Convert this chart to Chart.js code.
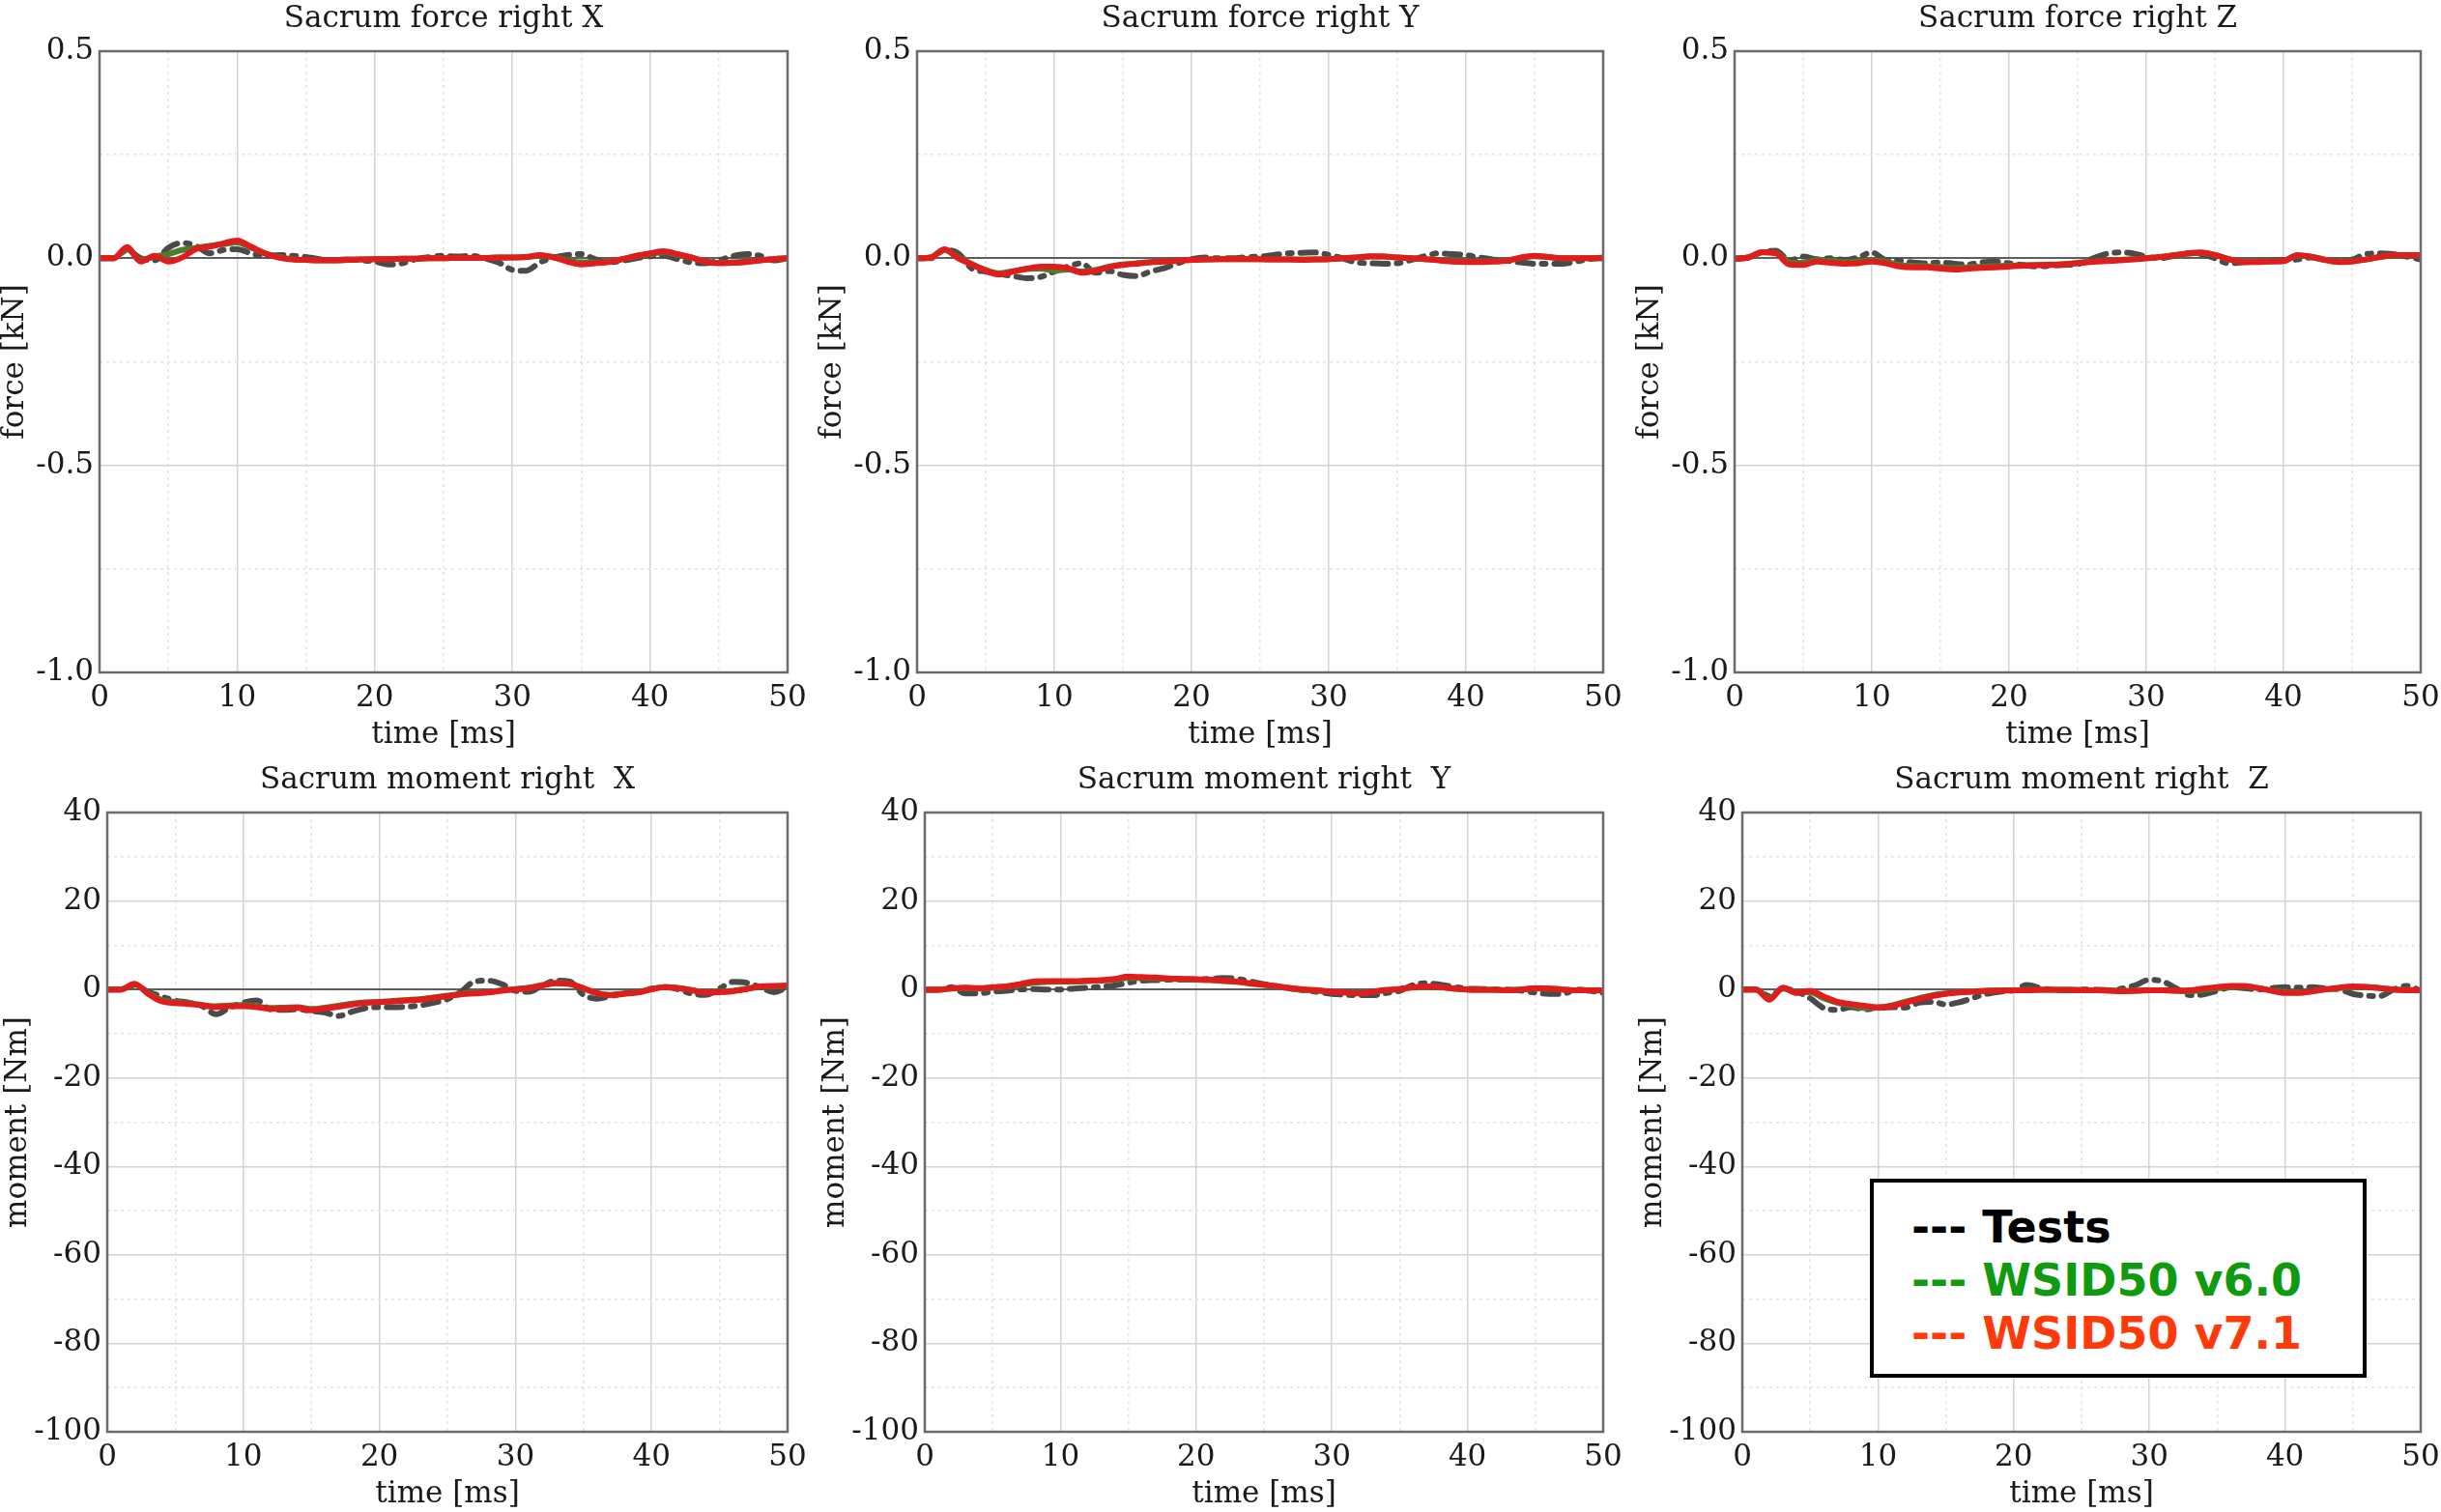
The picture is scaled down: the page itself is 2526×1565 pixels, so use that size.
<!DOCTYPE html>
<html>
<head>
<meta charset="utf-8">
<script src="https://cdn.jsdelivr.net/npm/chart.js"></script>
<style>
html,body{margin:0;padding:0;background:#fff;}
body{width:2526px;height:1565px;position:relative;overflow:hidden;}
canvas{position:absolute;z-index:1;}
#legend{position:absolute;z-index:10;left:1935px;top:1220px;width:514px;height:206px;border:4px solid #000;background:#fff;box-sizing:border-box;padding:19px 0 0 39px;font-family:"DejaVu Sans";font-weight:bold;font-size:46px;line-height:55px;white-space:pre;}
</style>
</head>
<body>
<div id="legend"></div>
<script>
// ---------------- data ----------------
const timeMs = [0,1,2,3,4,5,6,7,8,9,10,11,12,13,14,15,16,17,18,19,20,21,22,23,24,25,26,27,28,29,30,31,32,33,34,35,36,37,38,39,40,41,42,43,44,45,46,47,48,49,50];

const seriesNames = ['Tests', 'WSID50 v6.0', 'WSID50 v7.1'];
const panelTitles = ['Sacrum force right X', 'Sacrum force right Y', 'Sacrum force right Z',
                     'Sacrum moment right  X', 'Sacrum moment right  Y', 'Sacrum moment right  Z'];
const yAxisTitles = ['force [kN]', 'force [kN]', 'force [kN]', 'moment [Nm]', 'moment [Nm]', 'moment [Nm]'];
const xAxisTitle = 'time [ms]';

// axis ranges / tick steps
const forceAxis  = {min: -1.0, max: 0.5, step: 0.25, labelStep: 0.5, decimals: 1};
const momentAxis = {min: -100, max: 40,  step: 10,   labelStep: 20,  decimals: 0};
const timeAxis   = {min: 0, max: 50, step: 5, labelStep: 10};

// force [kN]
const forceX_tests = [0,0,0.02,0,-0.005,0.025,0.037,0.03,0.012,0.02,0.022,0.012,0.005,0.008,0.006,0.003,-0.002,-0.004,-0.003,-0.005,-0.008,-0.015,-0.012,-0.002,0.003,0.006,0.004,0.006,0,-0.01,-0.028,-0.03,-0.01,0.002,0.008,0.01,-0.002,-0.01,-0.006,0,0.005,0.006,-0.002,-0.01,-0.012,-0.005,0.005,0.01,0.006,-0.005,0];
const forceX_v60   = [0,0,0.022,-0.004,0.004,0.01,0.02,0.025,0.03,0.034,0.038,0.026,0.012,0.003,-0.002,-0.004,-0.005,-0.005,-0.004,-0.003,-0.002,-0.002,-0.001,-0.001,0,0,0.001,0.001,0.001,0.002,0.002,0.003,0.006,0.003,-0.005,-0.01,-0.01,-0.008,-0.002,0.005,0.01,0.014,0.009,0.002,-0.007,-0.011,-0.01,-0.008,-0.005,-0.002,0];
const forceX_v71   = [0,0,0.027,-0.008,0.006,-0.008,0.002,0.022,0.028,0.036,0.043,0.028,0.012,0.002,-0.003,-0.004,-0.005,-0.005,-0.004,-0.003,-0.002,-0.002,-0.001,-0.001,0,0,0.001,0.001,0.001,0.002,0.002,0.003,0.008,0.002,-0.008,-0.015,-0.012,-0.009,-0.002,0.006,0.012,0.017,0.01,0.002,-0.008,-0.012,-0.011,-0.009,-0.005,-0.002,0];

const forceY_tests = [0,0,0.02,0.012,-0.025,-0.032,-0.038,-0.043,-0.048,-0.045,-0.032,-0.02,-0.012,-0.035,-0.031,-0.04,-0.043,-0.032,-0.024,-0.012,-0.002,0.002,0,0,0.003,0.004,0.008,0.012,0.013,0.014,0.008,0,-0.01,-0.012,-0.013,-0.012,-0.004,0.005,0.012,0.01,0.008,0.002,-0.003,-0.006,-0.01,-0.013,-0.013,-0.013,-0.008,-0.002,0.002];
const forceY_v60   = [0,0.002,0.02,0.002,-0.014,-0.028,-0.036,-0.031,-0.026,-0.025,-0.03,-0.027,-0.032,-0.028,-0.02,-0.015,-0.012,-0.009,-0.007,-0.005,-0.004,-0.003,-0.002,-0.002,-0.002,-0.002,-0.003,-0.003,-0.003,-0.003,-0.002,0,0.002,0.004,0.004,0.002,0,-0.002,-0.004,-0.007,-0.008,-0.008,-0.007,-0.005,0.001,0.005,0.003,0,0,0,0];
const forceY_v71   = [0,0.002,0.022,0,-0.015,-0.03,-0.039,-0.032,-0.025,-0.02,-0.02,-0.024,-0.035,-0.03,-0.021,-0.016,-0.013,-0.01,-0.008,-0.006,-0.004,-0.003,-0.002,-0.002,-0.002,-0.002,-0.003,-0.003,-0.004,-0.003,-0.002,0,0.002,0.005,0.004,0.002,0,-0.002,-0.005,-0.008,-0.009,-0.009,-0.008,-0.006,0.002,0.006,0.003,0,0,0,0];

const forceZ_tests = [0,0.002,0.015,0.018,-0.005,0.004,-0.002,0,-0.004,0.002,0.014,-0.004,-0.006,-0.01,-0.012,-0.01,-0.013,-0.015,-0.01,-0.008,-0.012,-0.016,-0.02,-0.018,-0.016,-0.014,-0.002,0.01,0.014,0.012,0.004,0,0.006,0.012,0.01,0,-0.012,-0.01,-0.008,-0.005,-0.004,-0.003,0.002,-0.004,-0.006,-0.003,0.01,0.012,0.01,0.004,-0.003];
const forceZ_v60   = [-0.002,0.002,0.014,0.013,-0.01,-0.011,-0.004,-0.007,-0.009,-0.008,-0.005,-0.008,-0.016,-0.018,-0.019,-0.021,-0.023,-0.022,-0.02,-0.019,-0.018,-0.017,-0.016,-0.015,-0.014,-0.011,-0.008,-0.006,-0.004,-0.002,0,0.003,0.007,0.011,0.013,0.008,-0.002,-0.008,-0.008,-0.007,-0.006,0.006,0.004,-0.003,-0.008,-0.007,-0.003,0.003,0.007,0.008,0.007];
const forceZ_v71   = [-0.002,0.002,0.015,0.012,-0.015,-0.016,-0.008,-0.011,-0.013,-0.012,-0.008,-0.012,-0.02,-0.022,-0.022,-0.025,-0.027,-0.025,-0.023,-0.022,-0.02,-0.018,-0.017,-0.016,-0.015,-0.012,-0.009,-0.007,-0.005,-0.003,0,0.003,0.007,0.012,0.014,0.008,-0.002,-0.009,-0.009,-0.008,-0.007,0.008,0.004,-0.004,-0.009,-0.008,-0.003,0.003,0.008,0.008,0.008];

// moment [Nm]
const momentX_tests = [0,0,1.0,-0.5,-1.6,-2.5,-3.0,-3.8,-5.6,-4.1,-3.0,-2.5,-4.5,-4.6,-4.5,-4.9,-5.2,-6.0,-5.0,-4.2,-4.0,-4.0,-3.9,-3.6,-3.0,-2.2,-0.5,1.8,2.0,1.2,-0.3,-0.5,1.0,2.0,1.8,-1.2,-2.1,-1.5,-0.9,-0.5,0.2,0.5,0,-1.0,-1.2,0.2,1.7,1.5,0.5,-0.6,0.5];
const momentX_v60   = [0,0,1.2,-0.8,-2.4,-2.8,-3.1,-3.5,-3.8,-3.6,-3.5,-3.8,-4.2,-4.1,-4.0,-4.4,-4.1,-3.7,-3.2,-2.9,-2.8,-2.6,-2.4,-2.2,-1.8,-1.4,-1.0,-0.8,-0.6,-0.2,0.1,0.4,1.0,1.5,1.3,0.2,-0.9,-1.2,-0.9,-0.6,0.1,0.5,0.3,-0.2,-0.6,-0.5,-0.3,0.2,0.6,0.7,0.8];
const momentX_v71   = [0,0,1.3,-1.0,-2.7,-3.1,-3.3,-3.6,-4.0,-3.8,-3.8,-4.0,-4.4,-4.3,-4.2,-4.7,-4.3,-3.9,-3.4,-3.0,-2.9,-2.7,-2.5,-2.3,-1.9,-1.5,-1.1,-0.9,-0.7,-0.3,0,0.3,0.9,1.4,1.2,0.3,-0.8,-1.3,-1.0,-0.7,0,0.5,0.3,-0.2,-0.7,-0.6,-0.4,0.1,0.7,0.8,0.9];

const momentY_tests = [0,0,0.5,-0.9,-0.9,-0.5,-0.3,0,0.1,0,0,0.2,0.4,0.6,0.9,1.5,2.0,2.1,2.2,2.2,2.3,2.4,2.6,2.4,1.8,1.2,0.7,0.2,-0.2,-0.6,-1.0,-1.2,-1.3,-1.3,-0.8,-0.3,1.0,1.4,1.1,0.6,0.2,0.1,0,0,-0.3,-0.7,-1.0,-1.0,0,-0.3,-0.8];
const momentY_v60   = [-0.1,-0.1,0.2,0.3,0.2,0.4,0.6,1.0,1.5,1.7,1.8,1.8,1.9,2.0,2.2,2.6,2.6,2.5,2.4,2.3,2.2,2.1,1.9,1.7,1.3,1.0,0.6,0.2,-0.1,-0.3,-0.5,-0.7,-0.8,-0.5,-0.2,0.1,0.4,0.6,0.5,0.2,0,-0.1,-0.1,-0.2,0,0.2,0.2,0,-0.2,-0.2,-0.3];
const momentY_v71   = [-0.1,-0.1,0.3,0.4,0.3,0.5,0.7,1.2,1.8,1.9,1.9,1.9,2.0,2.1,2.4,2.9,2.8,2.7,2.5,2.4,2.3,2.2,2.0,1.8,1.4,1.1,0.7,0.3,0,-0.2,-0.5,-0.7,-0.9,-0.5,-0.1,0.1,0.5,0.7,0.5,0.2,0,-0.1,-0.1,-0.2,0,0.3,0.2,0,-0.2,-0.2,-0.2];

const momentZ_tests = [0,0,-1.5,0.2,-0.5,-2.0,-4.2,-4.6,-4.0,-4.5,-4.2,-4.0,-4.1,-3.0,-2.8,-3.4,-2.9,-1.9,-1.0,-0.5,-0.2,1.0,0.3,-0.1,-0.2,0,0,-0.2,0.2,1.0,2.2,1.8,0.2,-1.3,-1.1,-0.3,0.5,0.3,0,0.3,0.5,0.4,0.5,0.2,0,-1.0,-1.4,-1.5,0,0.8,-0.3];
const momentZ_v60   = [0,0,-2.0,0.3,-0.7,-0.6,-2.0,-3.0,-3.6,-4.2,-4.1,-3.6,-2.8,-2.0,-1.3,-0.9,-0.6,-0.4,-0.3,-0.2,-0.2,-0.1,-0.1,-0.1,-0.1,-0.1,-0.2,-0.2,-0.3,-0.3,-0.2,-0.2,-0.3,-0.4,-0.1,0.3,0.6,0.7,0.3,-0.2,-0.6,-0.7,-0.4,0,0.3,0.6,0.5,0.3,0,-0.1,-0.2];
const momentZ_v71   = [0,0,-2.3,0.4,-0.8,-0.3,-1.6,-2.8,-3.3,-3.7,-4.0,-3.8,-3.0,-2.2,-1.5,-1.0,-0.7,-0.5,-0.3,-0.3,-0.2,-0.2,-0.1,-0.1,-0.1,-0.2,-0.2,-0.3,-0.4,-0.3,-0.2,-0.2,-0.3,-0.2,0.2,0.5,0.8,0.8,0.3,-0.3,-0.8,-0.8,-0.4,0,0.4,0.7,0.6,0.3,0,-0.2,-0.2];

// ---------------- styles / layout ----------------
const panelData = [
  [forceX_tests, forceX_v60, forceX_v71],
  [forceY_tests, forceY_v60, forceY_v71],
  [forceZ_tests, forceZ_v60, forceZ_v71],
  [momentX_tests, momentX_v60, momentX_v71],
  [momentY_tests, momentY_v60, momentY_v71],
  [momentZ_tests, momentZ_v60, momentZ_v71]
];
const panelAxis = [forceAxis, forceAxis, forceAxis, momentAxis, momentAxis, momentAxis];

const lineColors = ['#4a4a4a', '#4c7d2a', '#e01c1c'];
const legendColors = ['#000000', '#109a10', '#ff3a0a'];

const plotRects = [
  {l:103,  t:53,  r:815,  b:696,  yw:110},
  {l:949,  t:53,  r:1659, b:696,  yw:110},
  {l:1795, t:53,  r:2505, b:696,  yw:110},
  {l:111,  t:841, r:815,  b:1482, yw:115},
  {l:957,  t:841, r:1659, b:1482, yw:115},
  {l:1803, t:841, r:2505, b:1482, yw:115}
];

const FONT = 'DejaVu Serif';
const FSIZE = 31;
const TEXT = '#1a1a1a';
const TH = 57, XH = 100, PR = 30;

const framePlugin = {
  id: 'frame',
  afterDatasetsDraw(chart) {
    const a = chart.chartArea, c = chart.ctx;
    c.save();
    c.strokeStyle = '#6b6b6b';
    c.lineWidth = 2.5;
    c.strokeRect(a.left, a.top, a.right - a.left, a.bottom - a.top);
    c.restore();
  }
};

function isMultiple(v, s) {
  const q = v / s;
  return Math.abs(q - Math.round(q)) < 1e-6;
}

function buildPanel(i) {
  const R = plotRects[i];
  const ax = panelAxis[i];
  const cv = document.createElement('canvas');
  const w = R.yw + (R.r - R.l) + PR;
  const h = TH + (R.b - R.t) + XH;
  cv.width = w; cv.height = h;
  cv.style.width = w + 'px'; cv.style.height = h + 'px';
  cv.style.left = (R.l - R.yw) + 'px';
  cv.style.top = (R.t - TH) + 'px';
  document.body.appendChild(cv);

  const series = panelData[i];
  const mk = (k, extra) => Object.assign({
    label: seriesNames[k],
    data: series[k].map((v, j) => ({x: timeMs[j], y: v})),
    borderColor: lineColors[k],
    backgroundColor: lineColors[k],
    borderWidth: 6,
    pointRadius: 0,
    fill: false,
    cubicInterpolationMode: 'monotone',
    borderCapStyle: 'round',
    borderJoinStyle: 'round'
  }, extra);

  const gridColor = (isY) => (ctx) => {
    if (!ctx.tick) return '#dddddd';
    const v = ctx.tick.value;
    if (isY && Math.abs(v) < 1e-9) return '#5e5e5e';
    return isMultiple(v, isY ? ax.labelStep : timeAxis.labelStep) ? '#d4d4d4' : '#e3e3e3';
  };
  const gridWidth = (isY) => (ctx) => {
    if (isY && ctx.tick && Math.abs(ctx.tick.value) < 1e-9) return 2;
    return 1.5;
  };
  const gridDash = (isY) => (ctx) => {
    if (!ctx.tick) return [];
    const v = ctx.tick.value;
    if (isY && Math.abs(v) < 1e-9) return [];
    return isMultiple(v, isY ? ax.labelStep : timeAxis.labelStep) ? [] : [3, 4];
  };

  new Chart(cv, {
    type: 'line',
    data: {
      datasets: [
        mk(2, {order: 0}),
        mk(1, {order: 1}),
        mk(0, {order: 2, borderDash: [16, 9, 4, 9]})
      ]
    },
    options: {
      responsive: false,
      animation: false,
      devicePixelRatio: 1,
      layout: {padding: {left: 0, right: PR, top: 0, bottom: 0}},
      plugins: {
        legend: {display: false},
        tooltip: {enabled: false},
        title: {
          display: true,
          fullSize: false,
          text: panelTitles[i],
          color: TEXT,
          font: {family: FONT, size: FSIZE, weight: 'normal', lineHeight: 1.2},
          padding: {top: 5, bottom: TH - FSIZE * 1.2 - 5}
        }
      },
      scales: {
        x: {
          type: 'linear',
          min: timeAxis.min, max: timeAxis.max,
          afterFit(s) { s.height = XH; },
          ticks: {
            stepSize: timeAxis.step, autoSkip: false, maxRotation: 0, padding: 8,
            color: TEXT, font: {family: FONT, size: FSIZE},
            callback: (v) => isMultiple(v, timeAxis.labelStep) ? String(v) : ''
          },
          grid: {drawTicks: false, color: gridColor(false), lineWidth: gridWidth(false)},
          border: {display: false, dash: gridDash(false)},
          title: {display: true, text: xAxisTitle, color: TEXT,
                  font: {family: FONT, size: FSIZE, lineHeight: 1.2}, padding: {top: 0, bottom: 16}}
        },
        y: {
          type: 'linear',
          min: ax.min, max: ax.max,
          afterFit(s) { s.width = R.yw; },
          ticks: {
            stepSize: ax.step, autoSkip: false, padding: 6,
            color: TEXT, font: {family: FONT, size: FSIZE},
            callback: (v) => isMultiple(v, ax.labelStep) ? Number(v).toFixed(ax.decimals) : ''
          },
          grid: {drawTicks: false, color: gridColor(true), lineWidth: gridWidth(true)},
          border: {display: false, dash: gridDash(true)},
          title: {display: true, text: yAxisTitles[i], color: TEXT,
                  font: {family: FONT, size: FSIZE, lineHeight: 1.2}, padding: {top: 4, bottom: 0}}
        }
      }
    },
    plugins: [framePlugin]
  });
}

for (let i = 0; i < 6; i++) buildPanel(i);

// legend (overlay box, as in the reference)
const lg = document.getElementById('legend');
seriesNames.forEach((name, k) => {
  const d = document.createElement('div');
  d.style.color = legendColors[k];
  d.textContent = '--- ' + name;
  lg.appendChild(d);
});
</script>
</body>
</html>
